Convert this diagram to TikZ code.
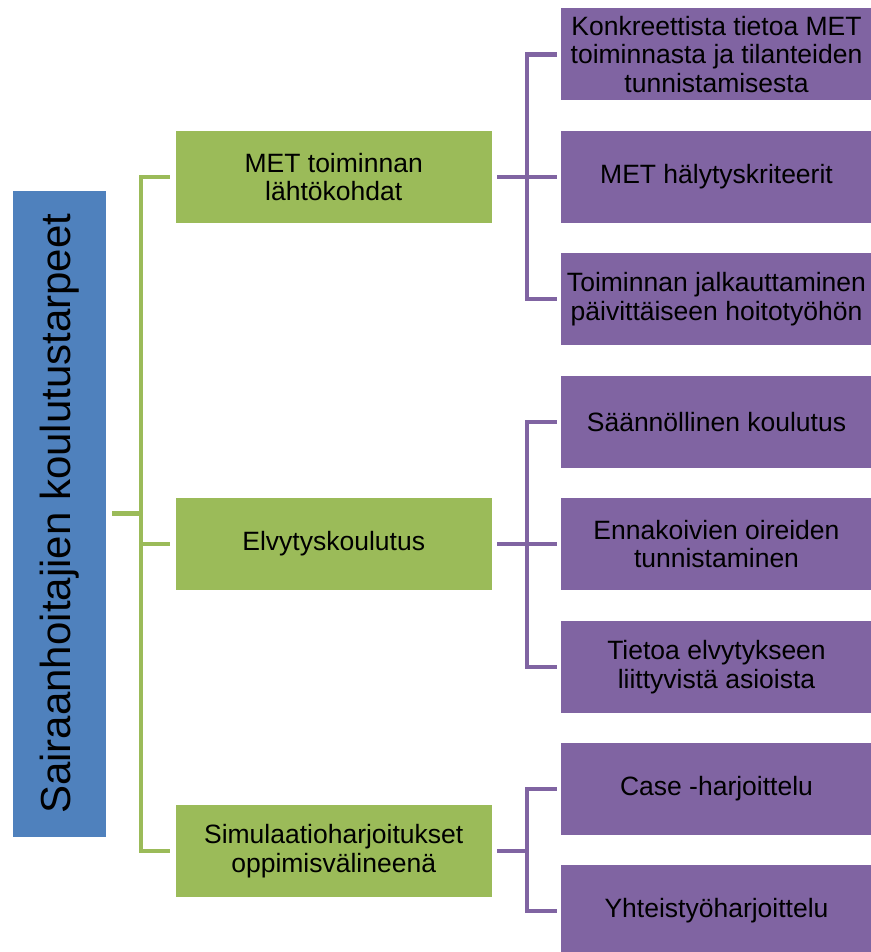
\documentclass[tikz,border=0pt]{standalone}
\usepackage{fontspec}
\setmainfont{Liberation Sans}
\usetikzlibrary{backgrounds}
\pgfdeclarelayer{edgelayer}
\pgfdeclarelayer{nodelayer}
\pgfsetlayers{edgelayer,nodelayer,main}
\definecolor{rootblue}{HTML}{4F81BD}
\definecolor{levelgreen}{HTML}{9BBB59}
\definecolor{leafpurple}{HTML}{8064A2}
\tikzset{font=\fontsize{26.5}{28.5}\selectfont}
\tikzstyle{none}=[inner sep=0pt]
\tikzstyle{rootbox}=[fill=rootblue,rotate=90,inner sep=0pt,minimum width=646pt,minimum height=93pt,font=\fontsize{42}{46}\selectfont]
\tikzstyle{midbox}=[fill=levelgreen,inner sep=0pt,minimum width=316pt,minimum height=92pt,align=center]
\tikzstyle{leafbox}=[fill=leafpurple,inner sep=0pt,minimum width=311pt,minimum height=92pt,align=center]
\tikzstyle{greenline}=[draw=levelgreen,line width=4.5pt]
\tikzstyle{purpleline}=[draw=leafpurple,line width=4.5pt]

\begin{document}
\begin{tikzpicture}[x=1pt,y=-1pt]
	\useasboundingbox (0,0) rectangle (870,952);
	\begin{pgfonlayer}{nodelayer}
		\node [style=rootbox] (0) at (59.5, 513.7) {Sairaanhoitajien koulutustarpeet};
		\node [style=midbox] (1) at (333.7, 176.8) {MET toiminnan\\lähtökohdat};
		\node [style=midbox] (2) at (333.7, 544) {Elvytyskoulutus};
		\node [style=midbox] (3) at (333.7, 851) {Simulaatioharjoitukset\\oppimisvälineenä};
		\node [style=leafbox] (4) at (716.5, 54.3) {Konkreettista tietoa MET\\toiminnasta ja tilanteiden\\tunnistamisesta};
		\node [style=leafbox] (5) at (716.5, 176.8) {MET hälytyskriteerit};
		\node [style=leafbox] (6) at (716.5, 299) {Toiminnan jalkauttaminen\\päivittäiseen hoitotyöhön};
		\node [style=leafbox] (7) at (716.5, 422) {Säännöllinen koulutus};
		\node [style=leafbox] (8) at (716.5, 544) {Ennakoivien oireiden\\tunnistaminen};
		\node [style=leafbox] (9) at (716.5, 667) {Tietoa elvytykseen\\liittyvistä asioista};
		\node [style=leafbox] (10) at (716.5, 789) {Case -harjoittelu};
		\node [style=leafbox] (11) at (716.5, 911) {Yhteistyöharjoittelu};
		\node [style=none] (20) at (141, 513.7) {};
		\node [style=none] (21) at (527, 176.8) {};
		\node [style=none] (22) at (527, 544) {};
		\node [style=none] (23) at (527, 851) {};
	\end{pgfonlayer}
	\begin{pgfonlayer}{edgelayer}
		\draw [style=greenline, shorten <=6pt] (0.south) to (20.center);
		\draw [style=greenline, shorten >=5.7pt] (20.center) |- (1.west);
		\draw [style=greenline, shorten >=5.7pt] (20.center) |- (2.west);
		\draw [style=greenline, shorten >=5.7pt] (20.center) |- (3.west);
		\draw [style=purpleline, shorten <=5.3pt] (1.east) to (21.center);
		\draw [style=purpleline, shorten >=4pt] (21.center) |- (4.west);
		\draw [style=purpleline, shorten >=4pt] (21.center) to (5.west);
		\draw [style=purpleline, shorten >=4pt] (21.center) |- (6.west);
		\draw [style=purpleline, shorten <=5.3pt] (2.east) to (22.center);
		\draw [style=purpleline, shorten >=4pt] (22.center) |- (7.west);
		\draw [style=purpleline, shorten >=4pt] (22.center) to (8.west);
		\draw [style=purpleline, shorten >=4pt] (22.center) |- (9.west);
		\draw [style=purpleline, shorten <=5.3pt] (3.east) to (23.center);
		\draw [style=purpleline, shorten >=4pt] (23.center) |- (10.west);
		\draw [style=purpleline, shorten >=4pt] (23.center) |- (11.west);
	\end{pgfonlayer}
\end{tikzpicture}
\end{document}
